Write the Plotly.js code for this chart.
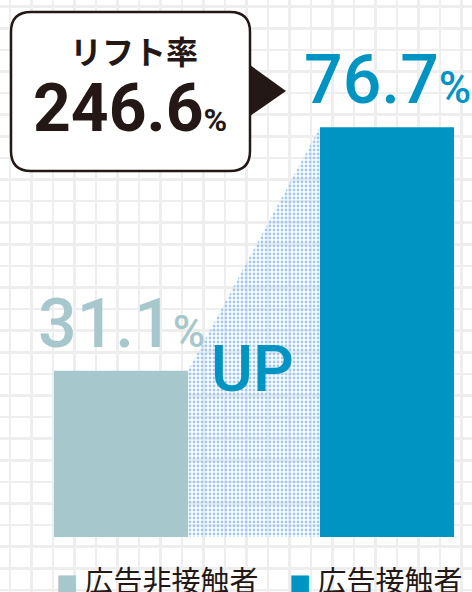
<!DOCTYPE html>
<html>
<head>
<meta charset="utf-8">
<script src="https://cdn.plot.ly/plotly-3.0.1.min.js"></script>
<style>
  html, body { margin: 0; padding: 0; background: #ffffff; }
  #chart { width: 472px; height: 592px; }
</style>
</head>
<body>
<div id="chart"></div>
<script>
// Chart data
const categories = ["広告非接触者", "広告接触者"];
const values = [31.1, 76.7];
const barColors = ["#a6c8cc", "#0094c3"];
const liftTitle = "リフト率";
const upLabel = "UP";

const W = 472;
const H = 592;
const NUM = "Roboto, sans-serif";
const CJK = '"Noto Sans CJK JP", "Noto Sans", sans-serif';
const INK = "#231815";

// pixel -> paper helpers (plot area covers the whole page)
const px = (x) => x / W;
const py = (y) => 1 - y / H;

const xs = categories.map((c, i) => i);
const barWidth = 0.504;
const lift = ((values[1] / values[0]) * 100).toFixed(1);

// Bars
const trace_bars = {
  x: xs,
  y: values,
  type: "bar",
  width: barWidth,
  marker: { color: barColors, line: { width: 0 } },
  hoverinfo: "skip",
  showlegend: false,
};

// Dotted "growth" band between the two bars
const trace_band = {
  x: [xs[0] + barWidth / 2, xs[1] - barWidth / 2, xs[1] - barWidth / 2, xs[0] + barWidth / 2],
  y: [values[0], values[1], 0, 0],
  type: "scatter",
  mode: "lines",
  fill: "toself",
  fillcolor: "rgba(255,255,255,0.85)",
  fillpattern: { shape: ".", size: 4, solidity: 0.4, fgcolor: "#a2c9f0" },
  line: { width: 0 },
  hoverinfo: "skip",
  showlegend: false,
};

// empty trace so the pixel-grid axes exist
const trace_grid = { x: [], y: [], type: "scatter", xaxis: "x2", yaxis: "y2", showlegend: false };

// Callout box with rounded corners
function boxPath(l, t, r, b, rad) {
  const P = (x, y) => `${px(x)},${py(y)}`;
  return (
    `M${P(l + rad, t)} L${P(r - rad, t)} Q${P(r, t)} ${P(r, t + rad)} ` +
    `L${P(r, b - rad)} Q${P(r, b)} ${P(r - rad, b)} ` +
    `L${P(l + rad, b)} Q${P(l, b)} ${P(l, b - rad)} ` +
    `L${P(l, t + rad)} Q${P(l, t)} ${P(l + rad, t)} Z`
  );
}

const shapes = [
  {
    type: "path",
    xref: "paper",
    yref: "paper",
    path: boxPath(11, 12, 250, 171, 20),
    fillcolor: "#ffffff",
    line: { color: INK, width: 2.5 },
    layer: "above",
  },
  {
    type: "path",
    xref: "paper",
    yref: "paper",
    path: `M${px(250)},${py(65)} L${px(286)},${py(91)} L${px(250)},${py(116)} Z`,
    fillcolor: INK,
    line: { width: 0 },
    layer: "above",
  },
];

const annotations = [
  // value labels
  ...values.map((v, i) => ({
    x: xs[i],
    y: v,
    xref: "x",
    yref: "y",
    xanchor: "center",
    yanchor: "bottom",
    yshift: 5,
    showarrow: false,
    text: `${v}<span style="font-size:44px">%</span>`,
    font: { family: NUM, size: 68, weight: 500, color: barColors[i] },
  })),
  // callout text
  {
    x: px(134),
    y: py(50),
    xref: "paper",
    yref: "paper",
    xanchor: "center",
    yanchor: "middle",
    showarrow: false,
    text: liftTitle,
    font: { family: CJK, size: 32, weight: 700, color: INK },
  },
  {
    x: px(130),
    y: py(149),
    xref: "paper",
    yref: "paper",
    xanchor: "center",
    yanchor: "bottom",
    showarrow: false,
    text: `${lift}<span style="font-size:32px">%</span>`,
    font: { family: NUM, size: 66, weight: 700, color: INK },
  },
  // UP
  {
    x: px(252),
    y: py(369),
    xref: "paper",
    yref: "paper",
    xanchor: "center",
    yanchor: "middle",
    showarrow: false,
    text: upLabel,
    font: { family: NUM, size: 64, weight: 500, color: barColors[1] },
  },
  // legend
  ...categories.map((c, i) => ({
    x: px([54, 287][i]),
    y: py(579),
    xref: "paper",
    yref: "paper",
    xanchor: "left",
    yanchor: "middle",
    showarrow: false,
    text: `<span style="color:${barColors[i]};font-size:22px">■</span> ${c}`,
    font: { family: CJK, size: 29, color: INK },
  })),
];

const layout = {
  width: W,
  height: H,
  margin: { l: 0, r: 0, t: 0, b: 0 },
  paper_bgcolor: "#ffffff",
  plot_bgcolor: "#ffffff",
  showlegend: false,
  xaxis: {
    range: [-121 / 266, 351 / 266],
    showgrid: false,
    zeroline: false,
    showticklabels: false,
    ticks: "",
  },
  yaxis: {
    range: [-55 / 5.343, 537 / 5.343],
    showgrid: false,
    zeroline: false,
    showticklabels: false,
    ticks: "",
  },
  // pixel-space axes used only for the background grid
  xaxis2: {
    range: [0, W],
    overlaying: "x",
    anchor: "y2",
    showgrid: true,
    gridcolor: "#eeeeee",
    gridwidth: 2.5,
    tick0: 10,
    dtick: 21.5,
    zeroline: false,
    showticklabels: false,
    ticks: "",
  },
  yaxis2: {
    range: [H, 0],
    overlaying: "y",
    anchor: "x2",
    showgrid: true,
    gridcolor: "#eeeeee",
    gridwidth: 2.5,
    tick0: 6.7,
    dtick: 21.6,
    zeroline: false,
    showticklabels: false,
    ticks: "",
  },
  shapes: shapes,
  annotations: annotations,
};

Plotly.newPlot("chart", [trace_grid, trace_band, trace_bars], layout, {
  displayModeBar: false,
  staticPlot: true,
});
</script>
</body>
</html>
